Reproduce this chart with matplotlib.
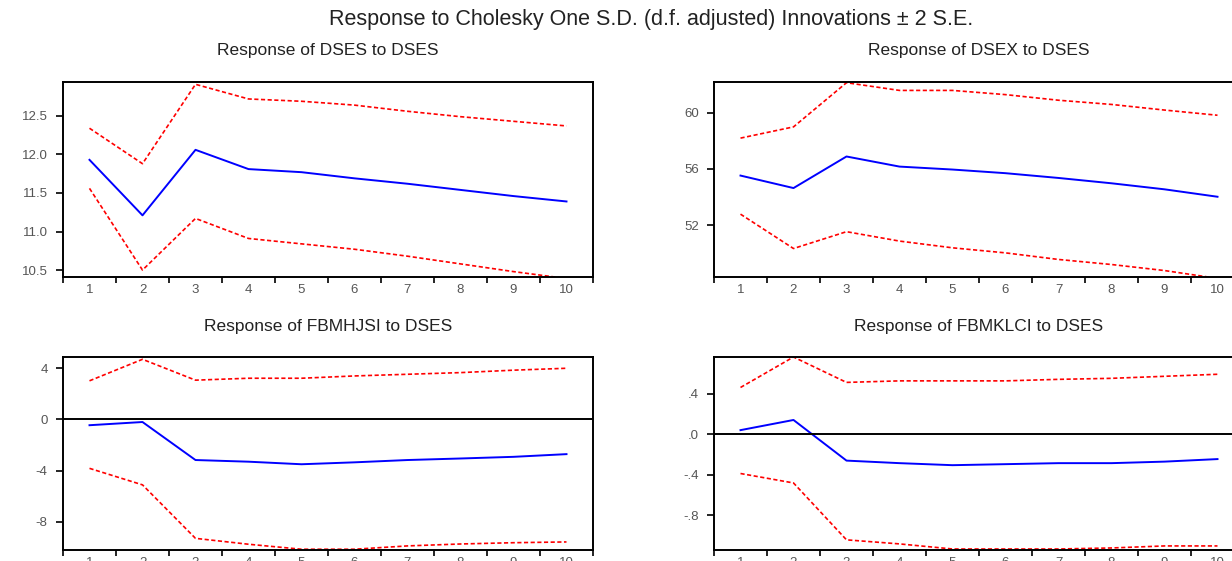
import matplotlib
matplotlib.use("Agg")
import matplotlib.pyplot as plt
import matplotlib.ticker as mticker
import numpy as np

plt.rcParams["font.family"] = ["Liberation Sans", "DejaVu Sans"]

PERIODS = [1, 2, 3, 4, 5, 6, 7, 8, 9, 10]

# Response of DSES to DSES
DSES_MID = [11.93, 11.21, 12.06, 11.81, 11.77, 11.69, 11.62, 11.54, 11.46, 11.39]
DSES_UP = [12.34, 11.88, 12.91, 12.72, 12.69, 12.64, 12.56, 12.49, 12.43, 12.37]
DSES_LO = [11.56, 10.50, 11.17, 10.91, 10.84, 10.77, 10.68, 10.58, 10.48, 10.39]

# Response of DSEX to DSES
DSEX_MID = [55.53, 54.64, 56.89, 56.17, 55.96, 55.70, 55.36, 54.98, 54.55, 54.02]
DSEX_UP = [58.20, 59.00, 62.15, 61.60, 61.60, 61.30, 60.90, 60.60, 60.20, 59.83]
DSEX_LO = [52.78, 50.33, 51.53, 50.86, 50.38, 50.02, 49.55, 49.19, 48.76, 48.20]

# Response of FBMHJSI to DSES
HJSI_MID = [-0.45, -0.20, -3.17, -3.30, -3.50, -3.35, -3.17, -3.05, -2.92, -2.71]
HJSI_UP = [3.02, 4.70, 3.07, 3.22, 3.22, 3.40, 3.53, 3.66, 3.85, 4.00]
HJSI_LO = [-3.82, -5.11, -9.29, -9.75, -10.14, -10.14, -9.88, -9.73, -9.63, -9.57]

# Response of FBMKLCI to DSES
KLCI_MID = [0.04, 0.14, -0.26, -0.285, -0.305, -0.295, -0.285, -0.285, -0.27, -0.245]
KLCI_UP = [0.46, 0.76, 0.51, 0.525, 0.525, 0.525, 0.54, 0.55, 0.57, 0.59]
KLCI_LO = [-0.387, -0.48, -1.04, -1.08, -1.13, -1.13, -1.13, -1.12, -1.10, -1.10]

TITLE = "Response to Cholesky One S.D. (d.f. adjusted) Innovations \u00b1 2 S.E."

PANELS = [
    # title, mid, up, lo, ylim, yticks, ytick labels, zero line
    ("Response of DSES to DSES", DSES_MID, DSES_UP, DSES_LO, (10.41, 12.94),
     [10.5, 11.0, 11.5, 12.0, 12.5], ["10.5", "11.0", "11.5", "12.0", "12.5"], False),
    ("Response of DSEX to DSES", DSEX_MID, DSEX_UP, DSEX_LO, (48.3, 62.2),
     [52, 56, 60], ["52", "56", "60"], False),
    ("Response of FBMHJSI to DSES", HJSI_MID, HJSI_UP, HJSI_LO, (-10.2, 4.88),
     [-8, -4, 0, 4], ["-8", "-4", "0", "4"], True),
    ("Response of FBMKLCI to DSES", KLCI_MID, KLCI_UP, KLCI_LO, (-1.14, 0.76),
     [-0.8, -0.4, 0.0, 0.4], ["-.8", "-.4", ".0", ".4"], True),
]

W, H = 1232, 561
# axes boxes in pixels: left, top, width, height
BOXES = [(63, 82, 530, 195), (714, 82, 530, 195),
         (63, 357, 530, 193), (714, 357, 530, 193)]
TITLE_Y = [50, 50, 326, 326]

fig = plt.figure(figsize=(W / 100, H / 100), dpi=100)
fig.text(651 / W, 1 - 20 / H, TITLE, ha="center", va="center", fontsize=15.5, color="#222222")

for (title, mid, up, lo, ylim, yt, ytl, zero), (l, t, w, h), ty in zip(PANELS, BOXES, TITLE_Y):
    ax = fig.add_axes([l / W, 1 - (t + h) / H, w / W, h / H])
    ax.plot(PERIODS, up, color="#ff0000", linestyle=(0, (2.5, 1.5)), linewidth=1.2)
    ax.plot(PERIODS, lo, color="#ff0000", linestyle=(0, (2.5, 1.5)), linewidth=1.2)
    ax.plot(PERIODS, mid, color="#0000ff", linewidth=1.4)
    if zero:
        ax.axhline(0, color="black", linewidth=1.4)
    ax.set_xlim(0.5, 10.5)
    ax.set_ylim(*ylim)
    ax.set_yticks(yt)
    ax.set_yticklabels(ytl)
    ax.xaxis.set_major_locator(mticker.FixedLocator(PERIODS))
    ax.xaxis.set_minor_locator(mticker.FixedLocator(np.arange(0.5, 11, 1.0)))
    ax.tick_params(axis="x", which="major", length=0, pad=5, labelsize=9.5, labelcolor="#555555")
    ax.tick_params(axis="x", which="minor", length=4, width=1.2, direction="out")
    ax.tick_params(axis="y", length=5, width=1.2, direction="out", pad=6,
                   labelsize=9.5, labelcolor="#555555")
    for s in ax.spines.values():
        s.set_linewidth(1.4)
    fig.text((l + w / 2) / W, 1 - ty / H, title, ha="center", va="center",
             fontsize=12.5, color="#222222")

fig.savefig("out.png", dpi=100)
